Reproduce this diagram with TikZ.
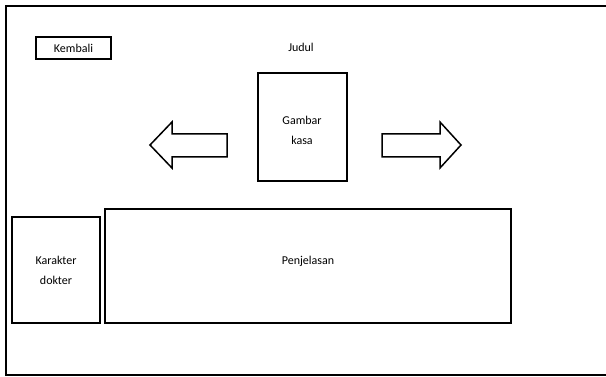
\documentclass[tikz,border=0pt]{standalone}
\usepackage{fontspec}
\setmainfont{Carlito}
\begin{document}
\begin{tikzpicture}[x=1pt,y=-1pt,
  box/.style={draw,line width=1.8pt,inner sep=0pt,align=center,font=\fontsize{12}{20}\selectfont},
  lbl/.style={inner sep=0pt,align=center,font=\fontsize{12}{20}\selectfont},
  shape arrow/.style={draw,line width=1.5pt,line join=miter}]
\useasboundingbox (0,0) rectangle (606,377);
\clip (0,0) rectangle (606,377);
\fill[white] (0,0) rectangle (606,377);
\draw[line width=1.8pt] (612,6) -- (6,6) -- (6,375) -- (612,375);
\node[box,minimum width=75pt,minimum height=22pt] (kembali) at (73.5,48) {Kembali};
\node[lbl] (judul) at (301,47) {Judul};
\node[box,minimum width=89pt,minimum height=108pt] (gambar) at (302.5,127) {};
\node[lbl] (gambartext) at (302,130) {Gambar\\kasa};
\draw[shape arrow] (227,134) -- (172,134) -- (172,122) -- (150,145) -- (172,168) -- (172,157) -- (227,157) -- cycle;
\draw[shape arrow] (382,134) -- (440,134) -- (440,122) -- (461,145) -- (440,168) -- (440,157) -- (382,157) -- cycle;
\node[box,minimum width=88pt,minimum height=106pt] (karakter) at (56,270) {Karakter\\dokter};
\node[box,minimum width=406pt,minimum height=114pt] (penjelasan) at (308,266) {};
\node[lbl] (penjtext) at (308,261) {Penjelasan};
\end{tikzpicture}
\end{document}
